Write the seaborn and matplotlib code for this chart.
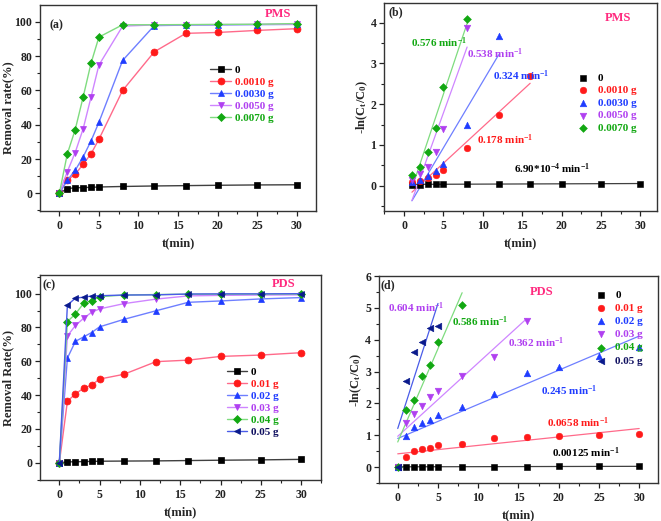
import numpy as np
import pandas as pd
import matplotlib
matplotlib.use("Agg")
import matplotlib.pyplot as plt
from matplotlib.ticker import MultipleLocator
import seaborn as sns

# ---- data ----
T_FULL = [0, 1, 2, 3, 4, 5, 8, 12, 16, 20, 25, 30]

PMS_LABELS = ["0", "0.0010 g", "0.0030 g", "0.0050 g", "0.0070 g"]
PMS_REMOVAL = [
    [0, 2.8, 3.2, 3.4, 3.5, 3.7, 4.0, 4.3, 4.5, 4.7, 4.9, 5.0],
    [0, 7.8, 11.0, 17.0, 23.0, 31.5, 60.0, 82.5, 93.3, 93.8, 95.0, 96.0],
    [0, 7.6, 13.4, 21.2, 30.5, 41.4, 77.5, 97.8, 98.1, 98.2, 98.4, 98.5],
    [0, 12.6, 23.8, 37.5, 56.0, 74.8, 97.5, 98.2, 98.3, 98.4, 98.5, 98.6],
    [0, 22.9, 37.1, 56.0, 75.8, 91.1, 98.3, 98.3, 98.4, 98.5, 98.6, 99.0],
]

PMS_KIN_T = [
    [1, 2, 3, 4, 5, 8, 12, 16, 20, 25, 30],
    [1, 2, 3, 4, 5, 8, 12, 16],
    [1, 2, 3, 4, 5, 8, 12],
    [1, 2, 3, 4, 5, 8],
    [1, 2, 3, 4, 5, 8],
]
PMS_KIN = [
    [0.03, 0.03, 0.035, 0.035, 0.04, 0.04, 0.045, 0.045, 0.05, 0.05, 0.05],
    [0.08, 0.12, 0.19, 0.26, 0.38, 0.92, 1.74, 2.70],
    [0.08, 0.14, 0.24, 0.36, 0.54, 1.49, 3.68],
    [0.14, 0.28, 0.47, 0.82, 1.39, 3.87],
    [0.26, 0.46, 0.83, 1.42, 2.42, 4.08],
]
PMS_RATES = ["6.90*10$^{-4}$ min$^{-1}$", "0.178 min$^{-1}$", "0.324 min$^{-1}$",
             "0.538 min$^{-1}$", "0.576 min$^{-1}$"]

PDS_LABELS = ["0", "0.01 g", "0.02 g", "0.03 g", "0.04 g", "0.05 g"]
PDS_REMOVAL = [
    [0, 0.5, 0.6, 0.7, 0.8, 0.9, 1.0, 1.1, 1.3, 1.5, 1.7, 2.0],
    [0, 36.3, 40.8, 44.0, 46.0, 49.5, 52.3, 59.8, 60.7, 62.9, 63.7, 65.1],
    [0, 61.9, 71.8, 74.4, 77.0, 80.4, 84.8, 89.9, 94.9, 95.7, 96.9, 97.7],
    [0, 75.0, 81.2, 85.4, 89.0, 91.0, 94.1, 96.8, 98.7, 99.0, 99.2, 99.3],
    [0, 83.5, 88.0, 94.2, 95.9, 98.2, 99.2, 99.5, 99.7, 99.7, 99.8, 99.8],
    [0, 93.2, 97.4, 97.9, 98.6, 98.8, 99.2, 99.3, 99.8, 99.9, 99.9, 100.0],
]

PDS_KIN_T = [
    [0, 1, 2, 3, 4, 5, 8, 12, 16, 20, 25, 30],
    [0, 1, 2, 3, 4, 5, 8, 12, 16, 20, 25, 30],
    [0, 1, 2, 3, 4, 5, 8, 12, 16, 20, 25, 30],
    [0, 1, 2, 3, 4, 5, 8, 12, 16],
    [0, 1, 2, 3, 4, 5, 8],
    [0, 1, 2, 3, 4, 5],
]
PDS_KIN = [
    [0, 0.01, 0.01, 0.01, 0.01, 0.01, 0.015, 0.015, 0.015, 0.02, 0.02, 0.02],
    [0, 0.33, 0.51, 0.57, 0.61, 0.68, 0.74, 0.91, 0.93, 0.99, 1.01, 1.05],
    [0, 0.97, 1.27, 1.37, 1.47, 1.64, 1.90, 2.30, 2.97, 3.15, 3.48, 3.78],
    [0, 1.38, 1.67, 1.92, 2.20, 2.40, 2.85, 3.45, 4.60],
    [0, 1.80, 2.10, 2.85, 3.21, 3.94, 5.10],
    [0, 2.70, 3.63, 3.92, 4.37, 4.44],
]
PDS_RATES = ["0.00125 min$^{-1}$", "0.0658 min$^{-1}$", "0.245 min$^{-1}$",
             "0.362 min$^{-1}$", "0.586 min$^{-1}$", "0.604 min$^{-1}$"]

# ---- styles ----
MARKERS = ["s", "o", "^", "v", "D", "<"]
MARKER_SIZES = [4.5, 5.0, 5.0, 5.0, 4.2, 5.0]
MARKER_COLORS = ["#000000", "#ff1a1a", "#1f3cff", "#b040f0", "#12a812", "#0a1a8c"]
LINE_COLORS = ["#404040", "#ff6a8a", "#6e7fff", "#cf86ff", "#7fdc7f", "#4a5ce8"]
TEXT_COLORS = ["#000000", "#ff1a1a", "#1f3cff", "#b040f0", "#12a812", "#101060"]
PINK = "#ff2a7f"

sns.set_theme(style="ticks")
plt.rcParams["font.family"] = ["Liberation Serif", "DejaVu Serif"]
plt.rcParams.update({
    "font.weight": "bold",
    "axes.labelweight": "bold",
    "font.size": 8.5,
    "axes.labelsize": 9,
    "xtick.labelsize": 8.5,
    "ytick.labelsize": 8.5,
    "mathtext.fontset": "custom",
    "mathtext.rm": "Liberation Serif:bold",
    "mathtext.it": "Liberation Serif:bold:italic",
    "mathtext.bf": "Liberation Serif:bold",
    "mathtext.default": "rm",
    "axes.edgecolor": "#333333",
    "axes.linewidth": 1.0,
    "xtick.direction": "out",
    "ytick.direction": "out",
    "xtick.major.size": 3.5,
    "ytick.major.size": 3.5,
    "xtick.minor.size": 2,
    "ytick.minor.size": 2,
    "xtick.major.width": 0.9,
    "ytick.major.width": 0.9,
    "xtick.minor.width": 0.8,
    "ytick.minor.width": 0.8,
    "ytick.major.pad": 2,
    "xtick.major.pad": 3,
})

fig = plt.figure(figsize=(6.61, 5.21), dpi=100)
ax_a = fig.add_axes([0.0605, 0.595, 0.4175, 0.395])
ax_b = fig.add_axes([0.581, 0.595, 0.413, 0.399])
ax_c = fig.add_axes([0.0605, 0.0787, 0.4255, 0.3933])
ax_d = fig.add_axes([0.573, 0.073, 0.422, 0.397])


def style_axes(ax, xlim, ylim, ymaj, ymin_, ylabel):
    ax.set_xlim(*xlim)
    ax.set_ylim(*ylim)
    ax.xaxis.set_major_locator(MultipleLocator(5))
    ax.xaxis.set_minor_locator(MultipleLocator(2.5))
    ax.yaxis.set_major_locator(MultipleLocator(ymaj))
    ax.yaxis.set_minor_locator(MultipleLocator(ymin_))
    ax.set_xlabel("t(min)")
    ax.set_ylabel(ylabel, labelpad=0.5)
    ax.tick_params(which="both", top=False, right=False, colors="#222222")


def removal_panel(ax, series, labels, loc, handlelength, textpad, spacing):
    for i, y in enumerate(series):
        sns.lineplot(x=T_FULL, y=y, ax=ax, color=LINE_COLORS[i], lw=1,
                     marker=MARKERS[i], markersize=MARKER_SIZES[i],
                     markerfacecolor=MARKER_COLORS[i], markeredgecolor=MARKER_COLORS[i],
                     markeredgewidth=0.5, label=labels[i])
    ax.legend(loc="upper left", bbox_to_anchor=loc, frameon=False, fontsize=8,
              handlelength=handlelength, handletextpad=textpad, labelspacing=spacing,
              borderpad=0, borderaxespad=0,
              labelcolor=TEXT_COLORS[:len(series)])


def kinetic_panel(ax, ts, series, labels, loc, spacing):
    handles = []
    for i, (t, y) in enumerate(zip(ts, series)):
        sns.regplot(x=np.array(t, float), y=np.array(y, float), ax=ax, scatter=False,
                    ci=None, color=LINE_COLORS[i], line_kws={"lw": 0.9})
    for i, (t, y) in enumerate(zip(ts, series)):
        sns.scatterplot(x=t, y=y, ax=ax, marker=MARKERS[i], color=MARKER_COLORS[i],
                        s=MARKER_SIZES[i] ** 2 * 0.9, edgecolor=MARKER_COLORS[i],
                        linewidth=0.4, zorder=3)
        handles.append(ax.collections[-1])
    ax.legend(handles, labels, loc="upper left", bbox_to_anchor=loc, frameon=False,
              fontsize=8, handlelength=1.0, handletextpad=0.8, labelspacing=spacing,
              borderpad=0, borderaxespad=0, labelcolor=TEXT_COLORS[:len(series)])


# (a)
removal_panel(ax_a, PMS_REMOVAL, PMS_LABELS, (0.616, 0.71), 1.9, 0.35, 0.2)
style_axes(ax_a, (-2.45, 32.45), (-10.3, 109.7), 20, 10, "Removal rate(%)")
ax_a.text(-1.2, 98, "(a)", ha="left", va="center", fontsize=8.5)
ax_a.text(27.6, 104.5, "PMS", ha="center", va="center", color=PINK, fontsize=9)

# (b)
kinetic_panel(ax_b, PMS_KIN_T, PMS_KIN, PMS_LABELS, (0.709, 0.664), 0.25)
style_axes(ax_b, (-2.54, 32.1), (-0.62, 4.48), 1, 0.5, "-ln(C$_{t}$/C$_{0}$)")
ax_b.text(-2.0, 4.26, "(b)", ha="left", va="center", fontsize=8.5)
ax_b.text(27.1, 4.11, "PMS", ha="center", va="center", color=PINK, fontsize=9)
rate_pos_b = [(13.9, 0.43), (9.3, 1.12), (11.3, 2.69), (8.0, 3.25), (0.9, 3.52)]
for i, (x, y) in enumerate(rate_pos_b):
    ax_b.text(x, y, PMS_RATES[i], ha="left", va="center", color=TEXT_COLORS[i], fontsize=8)

# (c)
removal_panel(ax_c, PDS_REMOVAL, PDS_LABELS, (0.665, 0.551), 1.8, 0.35, 0.2)
style_axes(ax_c, (-2.4, 32.5), (-10.2, 111), 20, 10, "Removal Rate(%)")
ax_c.text(-2.1, 105, "(c)", ha="left", va="center", fontsize=8.5)
ax_c.text(27.8, 105.7, "PDS", ha="center", va="center", color=PINK, fontsize=9)

# (d)
kinetic_panel(ax_d, PDS_KIN_T, PDS_KIN, PDS_LABELS, (0.776, 0.932), 0.3)
style_axes(ax_d, (-2.36, 32.3), (-0.5, 6), 1, 0.5, "-ln(C$_{t}$/C$_{0}$)")
ax_d.text(-2.2, 5.7, "(d)", ha="left", va="center", fontsize=8.5)
ax_d.text(17.9, 5.5, "PDS", ha="center", va="center", color=PINK, fontsize=9)
rate_pos_d = [(19.2, 0.44), (18.5, 1.39), (17.8, 2.41), (13.7, 3.9), (6.7, 4.56), (-1.25, 5.0)]
rate_col_d = ["#000000", "#ff1a1a", "#1f3cff", "#b040f0", "#12a812", "#b040f0"]
for i, (x, y) in enumerate(rate_pos_d):
    ax_d.text(x, y, PDS_RATES[i], ha="left", va="center", color=rate_col_d[i], fontsize=8)

fig.savefig("out.png", dpi=100)
